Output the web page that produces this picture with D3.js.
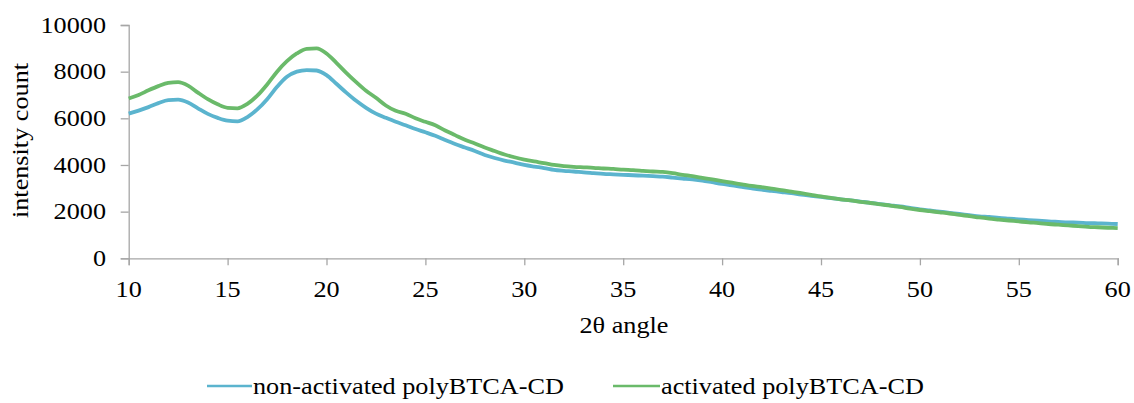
<!DOCTYPE html>
<html>
<head>
<meta charset="utf-8">
<script src="https://cdn.jsdelivr.net/npm/d3@7"></script>
<style>
  html, body { margin: 0; padding: 0; background: #fff; }
</style>
</head>
<body>
<svg id="chart" width="1134" height="403"></svg>
<script>
// 2θ angles (degrees), sampled every 0.5°
const angles = d3.range(0, 101).map(i => 10 + i * 0.5);

const nonActivated = [
  6200, 6330, 6480, 6650, 6780, 6800, 6680, 6430, 6190, 6020,
  5900, 5870, 6050, 6380, 6820, 7350, 7780, 8000, 8070, 8050,
  7850, 7480, 7100, 6750, 6450, 6200, 6020, 5850, 5700, 5540,
  5400, 5250, 5070, 4900, 4750, 4600, 4430, 4300, 4190, 4100,
  4000, 3930, 3870, 3790, 3750, 3720, 3680, 3650, 3620, 3600,
  3580, 3560, 3540, 3520, 3500, 3460, 3420, 3380, 3330, 3260,
  3190, 3130, 3060, 3000, 2940, 2890, 2840, 2790, 2730, 2680,
  2630, 2580, 2530, 2480, 2430, 2380, 2320, 2270, 2220, 2160,
  2100, 2050, 2000, 1950, 1900, 1850, 1800, 1770, 1730, 1700,
  1670, 1640, 1610, 1580, 1560, 1540, 1530, 1510, 1500, 1490,
  1470
];

const activated = [
  6850, 7000, 7200, 7380, 7520, 7550, 7400, 7100, 6820, 6600,
  6450, 6430, 6620, 6970, 7450, 8000, 8450, 8780, 8980, 9000,
  8780, 8380, 7950, 7550, 7180, 6880, 6550, 6320, 6200, 6000,
  5850, 5700, 5480, 5280, 5080, 4920, 4750, 4600, 4450, 4330,
  4230, 4150, 4080, 4000, 3950, 3920, 3900, 3880, 3850, 3830,
  3800, 3780, 3750, 3720, 3700, 3650, 3580, 3520, 3450, 3380,
  3310, 3240, 3170, 3100, 3050, 2990, 2920, 2860, 2790, 2720,
  2650, 2590, 2530, 2480, 2420, 2370, 2310, 2260, 2200, 2130,
  2070, 2020, 1970, 1920, 1860, 1810, 1750, 1700, 1660, 1620,
  1580, 1540, 1510, 1470, 1440, 1410, 1380, 1350, 1330, 1310,
  1290
];

const seriesNames = ["non-activated polyBTCA-CD", "activated polyBTCA-CD"];
const seriesColors = ["#5BB4CE", "#6ABA6A"];
const xTicks = [10, 15, 20, 25, 30, 35, 40, 45, 50, 55, 60];
const yTicks = [0, 2000, 4000, 6000, 8000, 10000];

const FONT = "'Liberation Serif', 'Times New Roman', 'DejaVu Serif', serif";
const FS = "23px";
const SX = 1.14; // horizontal stretch of glyphs seen in the reference

const svg = d3.select("#chart");
const mLeft = 128.7, mRight = 1117.7, mTop = 25, mBottom = 258.3;

const x = d3.scaleLinear().domain([10, 60]).range([mLeft, mRight]);
const y = d3.scaleLinear().domain([0, 10000]).range([mBottom, mTop]);

const axisColor = "#A6A6A6";

function addText(parent, tx, ty, rot, anchor, str, dy) {
  const g = parent.append("g")
    .attr("transform", `translate(${tx},${ty}) rotate(${rot}) scale(${SX},1)`);
  g.append("text")
    .attr("text-anchor", anchor)
    .attr("dy", dy || 0)
    .style("font-family", FONT)
    .style("font-size", FS)
    .attr("fill", "#000")
    .text(str);
  return g;
}

// Y axis (lines via d3 axis, labels placed from the same scale)
const yAxis = svg.append("g")
  .attr("transform", `translate(${mLeft},0)`)
  .call(d3.axisLeft(y).tickValues(yTicks).tickSize(8).tickFormat(""));
yAxis.select(".domain").attr("stroke", axisColor).attr("stroke-width", 1.3);
yAxis.selectAll(".tick line").attr("stroke", axisColor).attr("stroke-width", 1.3);
yTicks.forEach(v => addText(svg, 106, y(v), 0, "end", d3.format("d")(v), "0.34em"));

// X axis
const xAxis = svg.append("g")
  .attr("transform", `translate(0,${mBottom})`)
  .call(d3.axisBottom(x).tickValues(xTicks).tickSize(7).tickFormat(""));
xAxis.select(".domain").attr("stroke", axisColor).attr("stroke-width", 1.3);
xAxis.selectAll(".tick line").attr("stroke", axisColor).attr("stroke-width", 1.3);
xTicks.forEach(v => addText(svg, x(v), 297, 0, "middle", d3.format("d")(v)));

// Lines
const series = [nonActivated, activated];
const line = d3.line()
  .x((d, i) => x(angles[i]))
  .y(d => y(d))
  .curve(d3.curveMonotoneX);

series.forEach((vals, k) => {
  svg.append("path")
    .datum(vals)
    .attr("fill", "none")
    .attr("stroke", seriesColors[k])
    .attr("stroke-width", 3.8)
    .attr("stroke-linejoin", "round")
    .attr("d", line);
});

// Axis titles
addText(svg, 624, 333, 0, "middle", "2θ angle");
addText(svg, 28, 140.5, -90, "middle", "intensity count");

// Legend
const legendItems = [
  { lx: 207, len: 45, tx: 253 },
  { lx: 613, len: 47, tx: 661 }
];
legendItems.forEach((it, k) => {
  svg.append("line")
    .attr("x1", it.lx).attr("x2", it.lx + it.len)
    .attr("y1", 386).attr("y2", 386)
    .attr("stroke", seriesColors[k]).attr("stroke-width", 2.5);
  addText(svg, it.tx, 394, 0, "start", seriesNames[k]);
});
</script>
</body>
</html>
